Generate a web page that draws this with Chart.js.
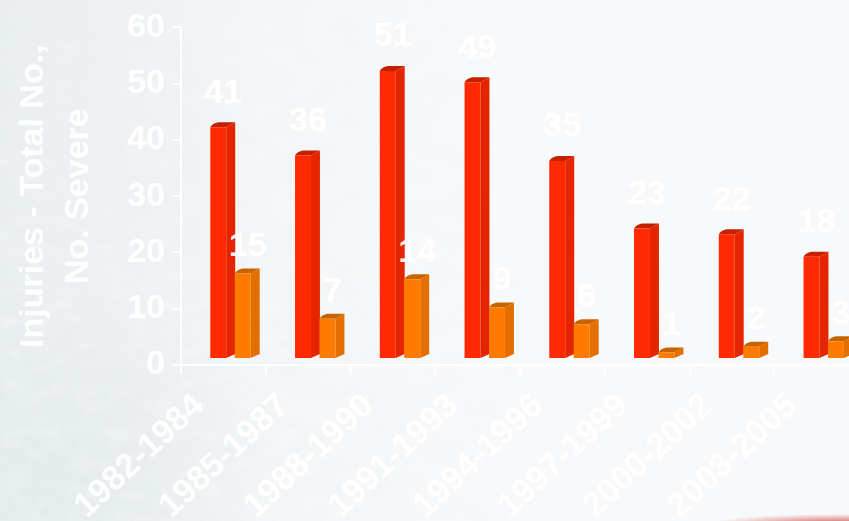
<!DOCTYPE html>
<html>
<head>
<meta charset="utf-8">
<script src="https://cdn.jsdelivr.net/npm/chart.js@4"></script>
<style>
  html, body { margin: 0; padding: 0; width: 849px; height: 521px; overflow: hidden; }
  body {
    background:
      radial-gradient(ellipse 130px 10px at 840px 524px, rgba(205,60,50,.85), rgba(205,60,50,0) 100%),
      radial-gradient(ellipse 260px 190px at 30px 470px, #e4eaed 0%, rgba(228,234,237,0) 100%),
      linear-gradient(90deg, #e9eef1 0%, #edf1f3 14%, #f4f6f7 30%, #f8f9fb 60%, #f8f9fb 100%);
  }
  #mottle { position: absolute; left: 0; top: 0; width: 849px; height: 521px;
    -webkit-mask-image: radial-gradient(ellipse 640px 660px at 0px 430px, #000 30%, rgba(0,0,0,.3) 70%, rgba(0,0,0,.1) 100%);
    mask-image: radial-gradient(ellipse 640px 660px at 0px 430px, #000 30%, rgba(0,0,0,.3) 70%, rgba(0,0,0,.1) 100%); }
  canvas { position: absolute; left: 0; top: 0; }
</style>
</head>
<body>
<svg id="mottle" width="849" height="521" aria-hidden="true">
  <filter id="cloudy" x="0" y="0" width="100%" height="100%">
    <feTurbulence type="fractalNoise" baseFrequency="0.03 0.05" numOctaves="3" seed="7"/>
    <feColorMatrix type="matrix" values="0 0 0 0 0.84  0 0 0 0 0.88  0 0 0 0 0.90  3 0 0 0 -1.2"/>
    <feGaussianBlur stdDeviation="1.5"/>
  </filter>
  <filter id="flecks" x="0" y="0" width="100%" height="100%">
    <feTurbulence type="fractalNoise" baseFrequency="0.04 0.07" numOctaves="2" seed="23"/>
    <feColorMatrix type="matrix" values="0 0 0 0 1  0 0 0 0 1  0 0 0 0 1  0 3.5 0 0 -1.75"/>
    <feGaussianBlur stdDeviation="1.5"/>
  </filter>
  <rect width="849" height="521" filter="url(#cloudy)" opacity="0.45"/>
  <rect width="849" height="521" filter="url(#flecks)" opacity="0.22"/>
</svg>
<canvas id="injuries" width="859" height="521"></canvas>
<script>
// Injury counts per three-year period
const periods = ['1982-1984', '1985-1987', '1988-1990', '1991-1993',
                 '1994-1996', '1997-1999', '2000-2002', '2003-2005'];
const totalInjuries = [41, 36, 51, 49, 35, 23, 22, 18];
const severeInjuries = [15, 7, 14, 9, 6, 1, 2, 3];
const yTicks = [0, 10, 20, 30, 40, 50, 60];

const WHITE = '#ffffff';
const LABEL_WHITE = 'rgba(255,255,255,.95)';
const FONT = 'Liberation Sans';

// Extrudes each front face into a column: side panel and sloped cap
const columnDepth = {
  id: 'columnDepth',
  beforeDatasetsDraw(chart) {
    const { ctx } = chart;
    chart.data.datasets.forEach((ds, d) => {
      chart.getDatasetMeta(d).data.forEach(bar => {
        const right = bar.x + bar.width / 2;
        const left = bar.x - bar.width / 2;
        const rise = 5, run = 9;
        ctx.fillStyle = ds.sideColor;
        ctx.beginPath();
        ctx.moveTo(right, bar.y);
        ctx.lineTo(right + run, bar.y - rise);
        ctx.lineTo(right + run, bar.base - rise + 1);
        ctx.lineTo(right, bar.base);
        ctx.closePath();
        ctx.fill();
        ctx.fillStyle = ds.capColor;
        ctx.beginPath();
        ctx.moveTo(left, bar.y);
        ctx.quadraticCurveTo(left + 2, bar.y - rise + 1, left + 8, bar.y - rise);
        ctx.lineTo(right + run, bar.y - rise);
        ctx.lineTo(right, bar.y);
        ctx.closePath();
        ctx.fill();
      });
    });
  }
};

// Prints each value above its column
const valueLabels = {
  id: 'valueLabels',
  afterDatasetsDraw(chart) {
    const { ctx } = chart;
    ctx.save();
    ctx.font = 'bold 34px "' + FONT + '"';
    ctx.fillStyle = LABEL_WHITE;
    ctx.textAlign = 'center';
    ctx.textBaseline = 'middle';
    chart.data.datasets.forEach((ds, d) => {
      chart.getDatasetMeta(d).data.forEach((bar, i) => {
        ctx.fillText(String(ds.values[i]), bar.x + 5, bar.y - ds.labelGap);
      });
    });
    ctx.restore();
  }
};

const asPoints = values => values.map((v, i) => ({ x: i, y: v }));

new Chart(document.getElementById('injuries'), {
  type: 'bar',
  data: {
    datasets: [
      { values: totalInjuries, data: asPoints(totalInjuries), backgroundColor: '#ff2a00',
        sideColor: '#e52500', capColor: '#c42000', labelGap: 34,
        xAxisID: 'xBars', yAxisID: 'yBars' },
      { values: severeInjuries, data: asPoints(severeInjuries), backgroundColor: '#ff7b00',
        sideColor: '#e26f00', capColor: '#c86400', labelGap: 27,
        xAxisID: 'xBars', yAxisID: 'yBars' }
    ]
  },
  options: {
    responsive: false,
    animation: false,
    layout: { padding: { top: 26, left: 0, right: 0, bottom: 0 } },
    plugins: { legend: { display: false }, tooltip: { enabled: false }, title: { display: false } },
    datasets: { bar: { categoryPercentage: 0.578, barPercentage: 0.65, borderWidth: 0 } },
    scales: {
      x: {
        type: 'category',
        labels: periods,
        offset: true,
        afterFit(s) { s.height = 156; },
        border: { color: WHITE, width: 2 },
        grid: { offset: true, drawOnChartArea: false, color: WHITE, lineWidth: 2, tickLength: 9 },
        ticks: {
          color: LABEL_WHITE, maxRotation: 43, minRotation: 43, autoSkip: false,
          padding: 12, labelOffset: -24,
          font: { family: FONT, size: 34, weight: 'bold' }
        }
      },
      y: {
        type: 'linear',
        min: 0,
        max: 60,
        afterBuildTicks(s) { s.ticks = yTicks.map(value => ({ value })); },
        afterFit(s) { s.width = 181; },
        border: { color: WHITE, width: 2 },
        grid: { drawOnChartArea: false, color: WHITE, lineWidth: 2, tickLength: 9 },
        ticks: { color: LABEL_WHITE, padding: 7, font: { family: FONT, size: 34, weight: 'bold' } },
        title: {
          display: true,
          text: ['Injuries - Total No.,', 'No. Severe'],
          color: LABEL_WHITE,
          padding: { top: 11, bottom: 0 },
          font: { family: FONT, size: 34, weight: 'bold', lineHeight: 1.33 }
        }
      },
      // Hidden scales carry the columns, lifted and shifted onto the chart's floor
      xBars: { type: 'linear', axis: 'x', display: false, offset: false, min: -0.584, max: 7.416 },
      yBars: { type: 'linear', axis: 'y', display: false, min: -1.24, max: 58.76 }
    }
  },
  plugins: [columnDepth, valueLabels]
});
</script>
</body>
</html>
